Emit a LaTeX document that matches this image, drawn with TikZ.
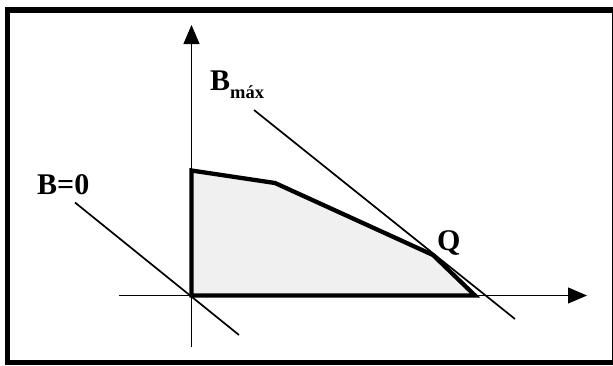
\documentclass[tikz,border=0pt]{standalone}
\usepackage{fontspec}
\setmainfont{Liberation Serif}
\usetikzlibrary{arrows.meta}
\definecolor{regionfill}{RGB}{240,240,240}
\tikzset{
  axisline/.style={line width=1pt,-{Triangle[length=19pt,width=16pt]}},
  plainaxis/.style={line width=1pt},
  levelline/.style={line width=1.7pt},
  region/.style={line width=4.3pt,line join=miter,fill=regionfill},
  frameline/.style={line width=5.3pt},
  lbl/.style={inner sep=0pt,anchor=base west,font=\bfseries\fontsize{30}{30}\selectfont}
}
\begin{document}
\begin{tikzpicture}[x=1pt,y=-1pt]
\useasboundingbox (0,0) rectangle (613,365);
% frame
\draw[frameline] (7.5,10) rectangle (614.5,362.7);
% coordinates
\coordinate (O) at (191.5,295.5);
\coordinate (ytop) at (191.5,25);
\coordinate (ybot) at (191.5,347);
\coordinate (xleft) at (119,295.5);
\coordinate (xright) at (587,295.5);
\coordinate (P1) at (191.5,170.5);
\coordinate (P2) at (275,183);
\coordinate (Q) at (433,255);
\coordinate (P4) at (475,295.5);
\coordinate (Za) at (75,202.5);
\coordinate (Zb) at (239,335);
\coordinate (Ma) at (254,110);
\coordinate (Mb) at (515,319);
% region
\draw[region] (O) -- (P1) -- (P2) -- (Q) -- (P4) -- cycle;
% axes
\draw[axisline] (ybot) -- (ytop);
\draw[axisline] (xleft) -- (xright);
% level lines
\draw[levelline] (Za) -- (Zb);
\draw[levelline] (Ma) -- (Mb);
% labels
\node[lbl] (lzero) at (37,194) {B=0};
\node[lbl] (lmax) at (210,90) {B\raisebox{-8pt}{\fontsize{18.5}{18.5}\selectfont máx}};
\node[lbl] (lq) at (437,250) {Q};
\end{tikzpicture}
\end{document}
